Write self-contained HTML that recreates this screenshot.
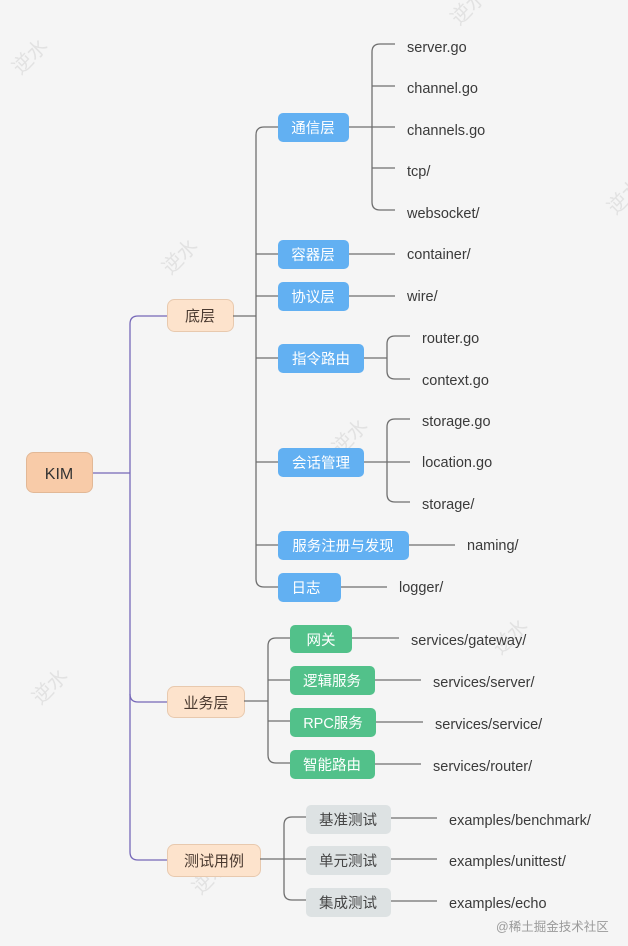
<!DOCTYPE html>
<html><head><meta charset="utf-8"><style>
html,body{margin:0;padding:0;background:#f5f5f5}
svg{display:block}
text{font-family:"Liberation Sans","Noto Sans CJK SC",sans-serif}
.l{font-size:14.5px;fill:#3a3a3a}
.w{font-size:14.5px;fill:#fff}
.d{font-size:15px;fill:#4a3a30}
.g{font-size:14.5px;fill:#444}
.c{fill:none;stroke:#6f6f6f;stroke-width:1.3}
.p{fill:none;stroke:#7668b8;stroke-width:1.3}
.wm{font-size:20px;fill:#e2e2e2}
</style></head><body>
<svg width="628" height="946" viewBox="0 0 628 946" xmlns="http://www.w3.org/2000/svg">
<rect width="628" height="946" fill="#f5f5f5"/>
<g class="wm">
<text x="10" y="70" transform="rotate(-45 22 60)">逆水</text>
<text x="450" y="20" transform="rotate(-45 462 12)">逆水</text>
<text x="160" y="270" transform="rotate(-45 172 260)">逆水</text>
<text x="330" y="450" transform="rotate(-45 342 440)">逆水</text>
<text x="30" y="700" transform="rotate(-45 42 690)">逆水</text>
<text x="490" y="650" transform="rotate(-45 502 640)">逆水</text>
<text x="190" y="890" transform="rotate(-45 202 880)">逆水</text>
<text x="605" y="210" transform="rotate(-45 617 200)">逆水</text>
</g>
<!-- root -->
<path class="p" d="M92 473 H130"/>
<path class="p" d="M167 316 H138 Q130 316 130 324 V852 Q130 860 138 860 H167"/>
<path class="p" d="M130 694 Q130 702 138 702 H167"/>
<rect x="26.5" y="452.5" width="66" height="40" rx="7" fill="#f8cba8" stroke="#e2b896"/>
<text x="59" y="479" text-anchor="middle" style="font-size:16px;fill:#333">KIM</text>

<rect x="167.5" y="299.5" width="66" height="32" rx="7" fill="#fde3cc" stroke="#e8c9ae"/>
<text x="200" y="321" text-anchor="middle" class="d">底层</text>
<rect x="167.5" y="686.5" width="77" height="31" rx="7" fill="#fde3cc" stroke="#e8c9ae"/>
<text x="206" y="708" text-anchor="middle" class="d">业务层</text>
<rect x="167.5" y="844.5" width="93" height="32" rx="7" fill="#fde3cc" stroke="#e8c9ae"/>
<text x="214" y="866" text-anchor="middle" class="d">测试用例</text>

<!-- 底层 branch -->
<path class="c" d="M233 316 H256"/>
<path class="c" d="M278 127 H264 Q256 127 256 135 V579 Q256 587 264 587 H278"/>
<path class="c" d="M256 254 H278 M256 296 H278 M256 358 H278 M256 462 H278 M256 545 H278"/>
<g fill="#62b0f2">
<rect x="278" y="113" width="71" height="29" rx="5"/>
<rect x="278" y="240" width="71" height="29" rx="5"/>
<rect x="278" y="282" width="71" height="29" rx="5"/>
<rect x="278" y="344" width="86" height="29" rx="5"/>
<rect x="278" y="448" width="86" height="29" rx="5"/>
<rect x="278" y="531" width="131" height="29" rx="5"/>
<rect x="278" y="573" width="63" height="29" rx="5"/>
</g>
<text x="313" y="133" text-anchor="middle" class="w">通信层</text>
<text x="313" y="260" text-anchor="middle" class="w">容器层</text>
<text x="313" y="302" text-anchor="middle" class="w">协议层</text>
<text x="321" y="364" text-anchor="middle" class="w">指令路由</text>
<text x="321" y="468" text-anchor="middle" class="w">会话管理</text>
<text x="343" y="551" text-anchor="middle" class="w">服务注册与发现</text>
<text x="306" y="593" text-anchor="middle" class="w">日志</text>

<path class="c" d="M349 127 H395"/>
<path class="c" d="M395 44 H380 Q372 44 372 52 V202 Q372 210 380 210 H395 M372 86 H395 M372 168 H395"/>
<text x="407" y="52" class="l">server.go</text>
<text x="407" y="93" class="l">channel.go</text>
<text x="407" y="135" class="l">channels.go</text>
<text x="407" y="176" class="l">tcp/</text>
<text x="407" y="218" class="l">websocket/</text>
<path class="c" d="M349 254 H395 M349 296 H395"/>
<text x="407" y="259" class="l">container/</text>
<text x="407" y="301" class="l">wire/</text>
<path class="c" d="M364 358 H387 M410 336 H395 Q387 336 387 344 V371 Q387 379 395 379 H410"/>
<text x="422" y="343" class="l">router.go</text>
<text x="422" y="385" class="l">context.go</text>
<path class="c" d="M364 462 H410 M410 419 H395 Q387 419 387 427 V494 Q387 502 395 502 H410"/>
<text x="422" y="426" class="l">storage.go</text>
<text x="422" y="467" class="l">location.go</text>
<text x="422" y="509" class="l">storage/</text>
<path class="c" d="M409 545 H455"/>
<text x="467" y="550" class="l">naming/</text>
<path class="c" d="M341 587 H387"/>
<text x="399" y="592" class="l">logger/</text>

<!-- 业务层 -->
<path class="c" d="M244 701 H268"/>
<path class="c" d="M290 638 H276 Q268 638 268 646 V755 Q268 763 276 763 H290 M268 680 H290 M268 721 H290"/>
<g fill="#52c18a">
<rect x="290" y="625" width="62" height="28" rx="5"/>
<rect x="290" y="666" width="85" height="29" rx="5"/>
<rect x="290" y="708" width="86" height="29" rx="5"/>
<rect x="290" y="750" width="85" height="29" rx="5"/>
</g>
<text x="321" y="645" text-anchor="middle" class="w">网关</text>
<text x="332" y="686" text-anchor="middle" class="w">逻辑服务</text>
<text x="333" y="728" text-anchor="middle" class="w">RPC服务</text>
<text x="332" y="770" text-anchor="middle" class="w">智能路由</text>
<path class="c" d="M352 638 H399 M375 680 H421 M376 722 H423 M375 764 H421"/>
<text x="411" y="645" class="l">services/gateway/</text>
<text x="433" y="687" class="l">services/server/</text>
<text x="435" y="729" class="l">services/service/</text>
<text x="433" y="771" class="l">services/router/</text>

<!-- 测试用例 -->
<path class="c" d="M260 859 H306"/>
<path class="c" d="M306 817 H292 Q284 817 284 825 V892 Q284 900 292 900 H306"/>
<g fill="#dde2e3">
<rect x="306" y="805" width="85" height="29" rx="5"/>
<rect x="306" y="846" width="85" height="29" rx="5"/>
<rect x="306" y="888" width="85" height="29" rx="5"/>
</g>
<text x="348" y="825" text-anchor="middle" class="g">基准测试</text>
<text x="348" y="866" text-anchor="middle" class="g">单元测试</text>
<text x="348" y="908" text-anchor="middle" class="g">集成测试</text>
<path class="c" d="M391 818 H437 M391 859 H437 M391 901 H437"/>
<text x="449" y="825" class="l">examples/benchmark/</text>
<text x="449" y="866" class="l">examples/unittest/</text>
<text x="449" y="908" class="l">examples/echo</text>

<text x="496" y="931" style="font-size:12.5px;fill:#9a9a9a">@稀土掘金技术社区</text>
</svg>
</body></html>
